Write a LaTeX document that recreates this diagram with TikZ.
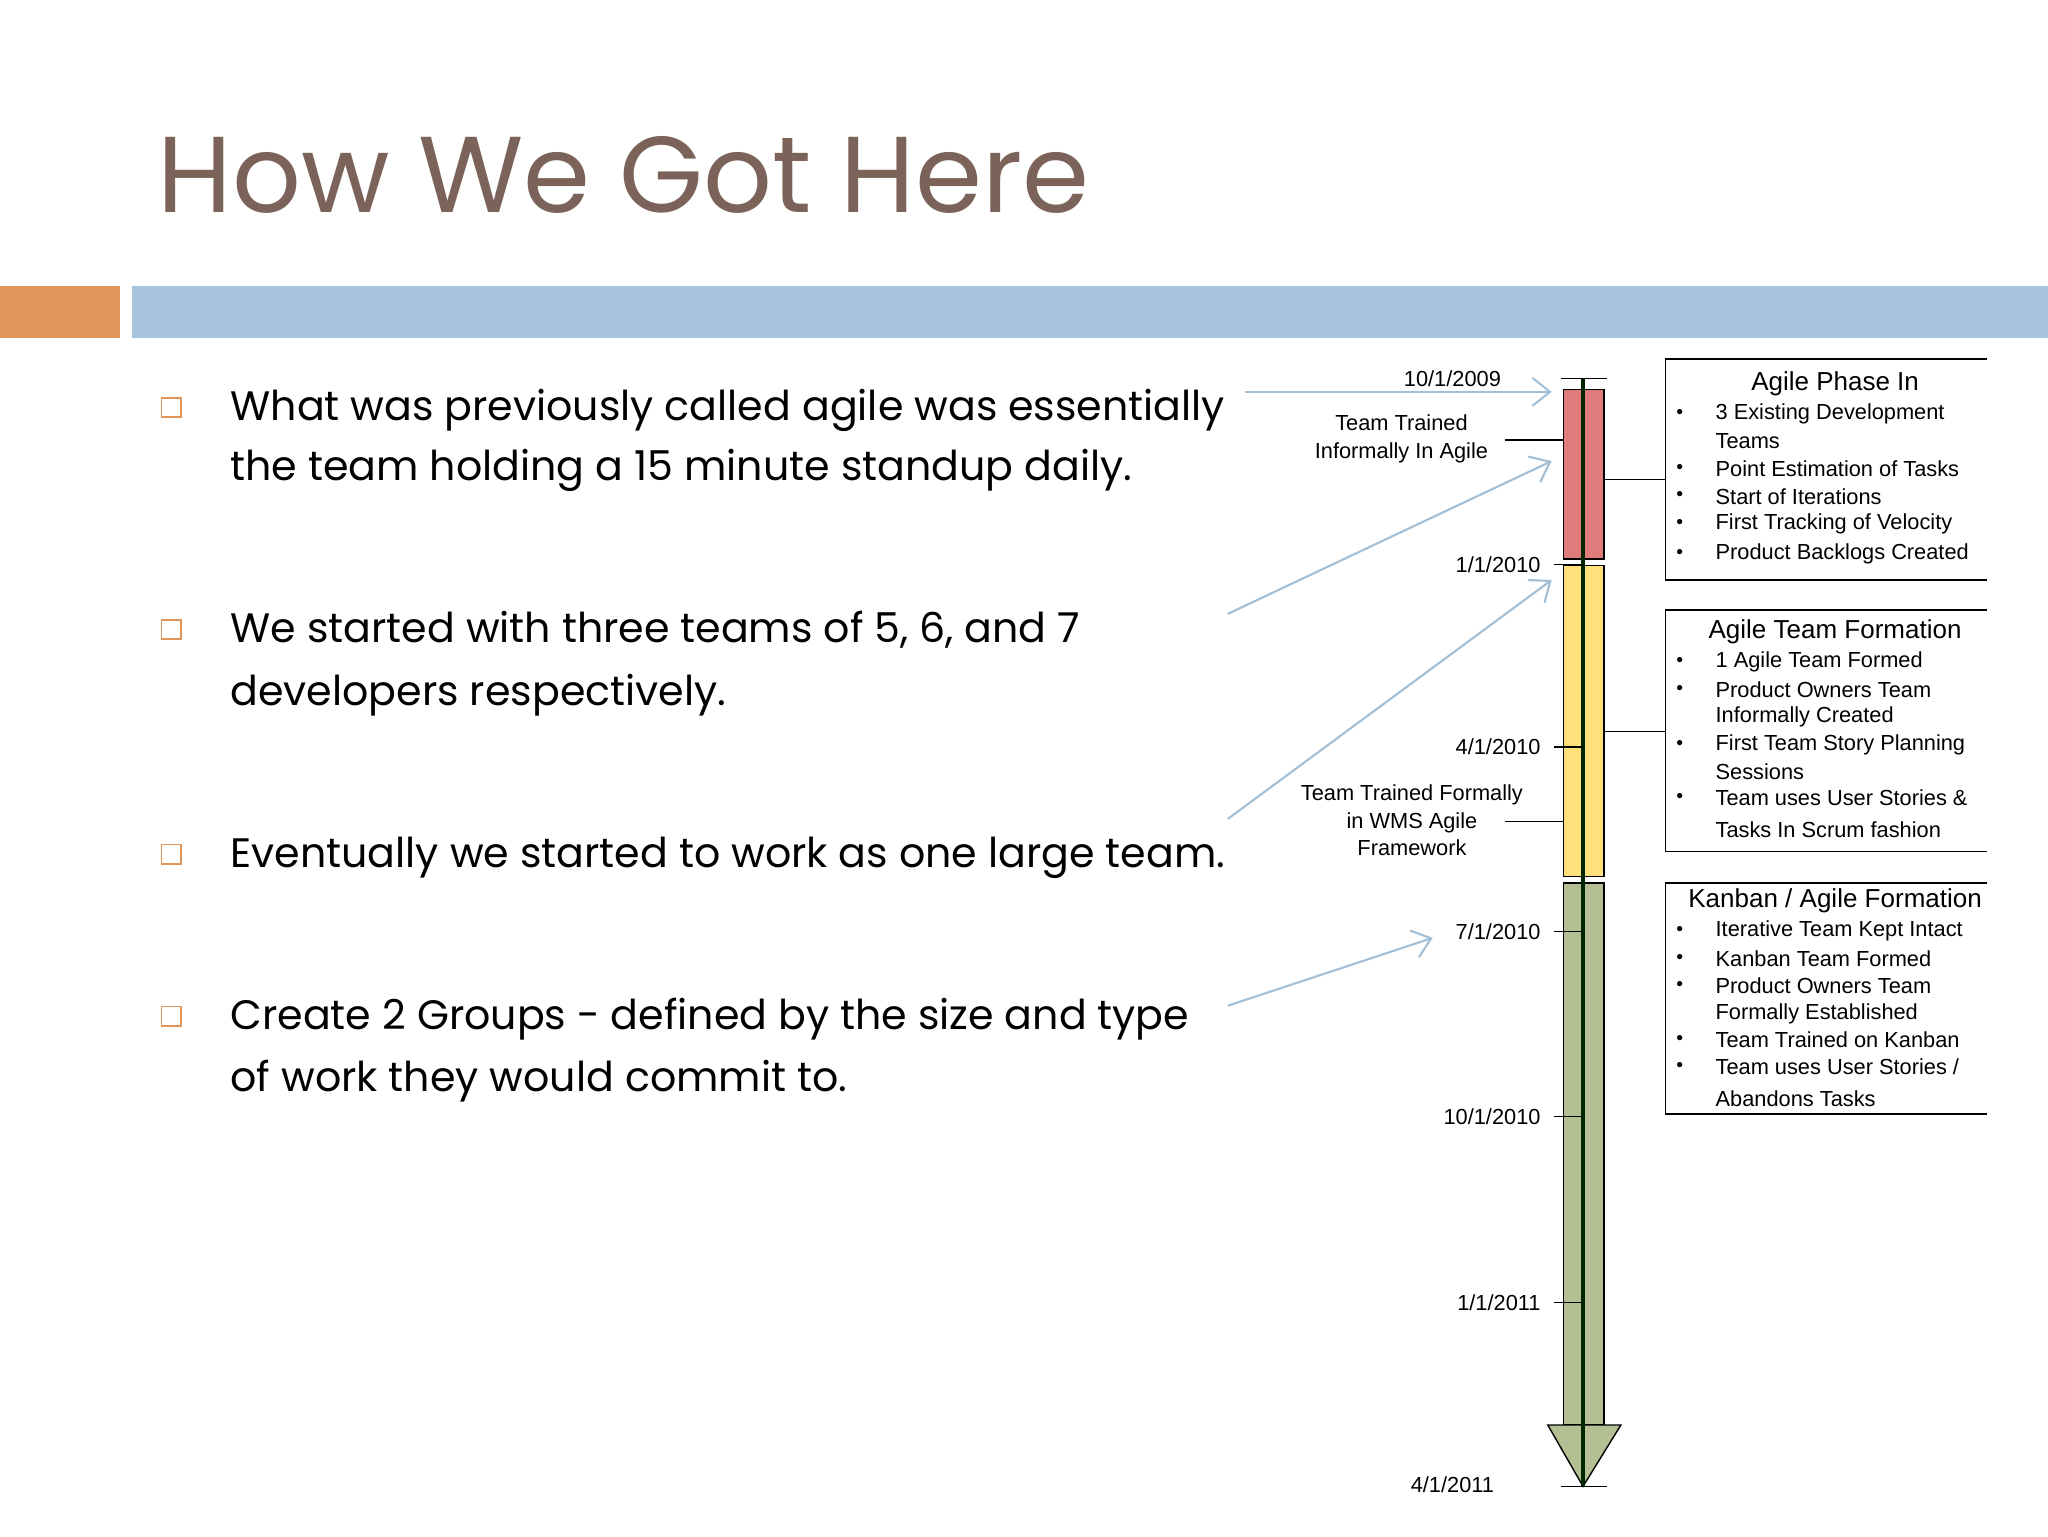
\documentclass[tikz,border=0pt]{standalone}
\usepackage{fontspec}
\setmainfont{Liberation Sans}
\newfontfamily\gothic{Poppins}
\usetikzlibrary{arrows.meta}
\definecolor{ttl}{HTML}{7B6359}
\definecolor{orng}{HTML}{E0955A}
\definecolor{blu}{HTML}{A7C4DE}
\definecolor{redb}{HTML}{E07B7B}
\definecolor{yelb}{HTML}{FFE07A}
\definecolor{grnb}{HTML}{B5BF94}
\definecolor{arr}{HTML}{A3BFD6}
\tikzset{
 bodytxt/.style={font=\gothic\fontsize{11.7}{16}\selectfont,anchor=base west,inner sep=0},
 sq/.style={draw=orng,line width=0.5pt,minimum size=5.5pt,inner sep=0},
 sm/.style={font=\fontsize{6.2}{7.8}\selectfont,inner sep=0},
 bt/.style={font=\fontsize{7.4}{9}\selectfont,inner sep=0},
 li/.style={font=\fontsize{6.2}{7.8}\selectfont,inner sep=0,anchor=west},
 dot/.style={font=\fontsize{5.5}{7}\selectfont,inner sep=0},
 barr/.style={draw=arr,line width=0.6pt,-{Straight Barb[length=5pt,width=8pt]}},
 thin/.style={line width=0.4pt}
}
\begin{document}
\begin{tikzpicture}[x=0.3716pt,y=-0.3716pt]
\useasboundingbox (0,0) rectangle (1568,1176);
\fill[white] (0,0) rectangle (1568,1176);
\node[anchor=base west,inner sep=0,text=ttl,font=\gothic\fontsize{30.7}{36}\selectfont] (title) at (120,163) {How We Got Here};
\fill[orng] (0,219) rectangle (92,259);
\fill[blu] (101,219) rectangle (1568,259);
% bullets
\node[sq] (s1) at (131,312) {};
\node[sq] (s2) at (131,482) {};
\node[sq] (s3) at (131,654) {};
\node[sq] (s4) at (131,778) {};
\node[bodytxt] (t1a) at (176,322) {What was previously called agile was essentially};
\node[bodytxt] (t1b) at (176,368) {the team holding a 15 minute standup daily.};
\node[bodytxt] (t2a) at (176,492) {We started with three teams of 5, 6, and 7};
\node[bodytxt] (t2b) at (176,540) {developers respectively.};
\node[bodytxt] (t3a) at (176,664) {Eventually we started to work as one large team.};
\node[bodytxt] (t4a) at (176,788) {Create 2 Groups - defined by the size and type};
\node[bodytxt] (t4b) at (176,836) {of work they would commit to.};
% timeline bars
\draw[thin,fill=redb] (1197,298) rectangle (1228,428);
\draw[thin,fill=yelb] (1197,433) rectangle (1228,671);
\draw[thin,fill=grnb] (1197,676) rectangle (1228,1091);
\draw[thin,fill=grnb] (1185,1091) -- (1241,1091) -- (1212,1138) -- cycle;
\draw[line width=1.3pt,black!85!green] (1212,290) -- (1212,1138);
\draw[thin] (1195,290) -- (1230,290);
\draw[thin] (1195,1138) -- (1230,1138);
\foreach \y/\t in {432/{1/1/2010},572/{4/1/2010},713/{7/1/2010},855/{10/1/2010},997/{1/1/2011}}{
 \draw[thin] (1190,\y) -- (1212,\y);
 \node[sm,anchor=east] at (1180,\y) {\t};
}
\node[sm] (d0) at (1112,290) {10/1/2009};
\node[sm] (d9) at (1112,1137) {4/1/2011};
\node[sm,align=center] (tti) at (1073,336) {Team Trained\\Informally In Agile};
\draw[thin] (1152,337) -- (1197,337);
\node[sm,align=center] (ttf) at (1081,628) {Team Trained Formally\\in WMS Agile\\Framework};
\draw[thin] (1152,629) -- (1197,629);
% arrows
\coordinate (a0) at (953,300); \coordinate (b0) at (1188,300);
\coordinate (a1) at (940,470); \coordinate (b1) at (1188,353);
\coordinate (a2) at (940,627); \coordinate (b2) at (1188,444);
\coordinate (a3) at (940,770); \coordinate (b3) at (1097,718);
\draw[barr] (a0) -- (b0);
\draw[barr] (a1) -- (b1);
\draw[barr] (a2) -- (b2);
\draw[barr] (a3) -- (b3);
% boxes
\draw[thin] (1521,275) -- (1275,275) -- (1275,444) -- (1521,444);
\draw[thin] (1521,467) -- (1275,467) -- (1275,652) -- (1521,652);
\draw[thin] (1521,676) -- (1275,676) -- (1275,853) -- (1521,853);
\draw[thin] (1228,367) -- (1275,367);
\draw[thin] (1228,560) -- (1275,560);
\node[bt] (h1) at (1405,294) {Agile Phase In};
\node[bt] (h2) at (1405,484) {Agile Team Formation};
\node[bt] (h3) at (1405,690) {Kanban / Agile Formation};
\foreach \y/\t in {317/{3 Existing Development},338/{Teams},359/{Point Estimation of Tasks},380/{Start of Iterations},401/{First Tracking of Velocity},424/{Product Backlogs Created},
507/{1 Agile Team Formed},528/{Product Owners Team},549/{Informally Created},570/{First Team Story Planning},591/{Sessions},611/{Team uses User Stories \&},635/{Tasks In Scrum fashion},
713/{Iterative Team Kept Intact},734/{Kanban Team Formed},755/{Product Owners Team},776/{Formally Established},796/{Team Trained on Kanban},817/{Team uses User Stories /},841/{Abandons Tasks}}
 \node[li] at (1313,\y) {\t};
\foreach \y in {317,359,380,401,424,507,528,570,611,713,734,755,796,817}
 \node[dot] at (1286,\y) {•};
\end{tikzpicture}
\end{document}
